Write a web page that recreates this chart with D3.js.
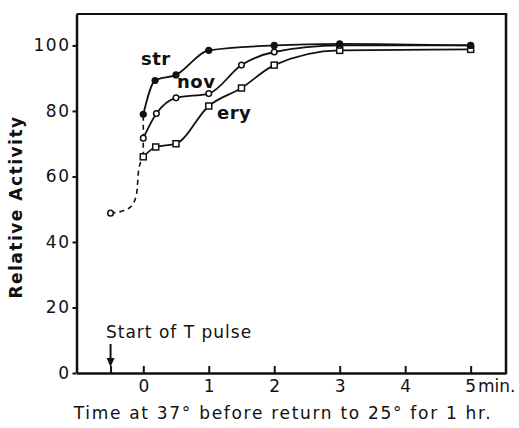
<!DOCTYPE html>
<html><head><meta charset="utf-8">
<script src="https://cdn.jsdelivr.net/npm/d3@7"></script>
<style>
html,body{margin:0;padding:0;background:#fff;}
text{font-family:"DejaVu Sans",sans-serif;fill:#111;}
</style></head>
<body><svg id="c" width="519" height="428"></svg>
<script>
// ---- data ----
const strTime = [0, 0.18, 0.5, 1, 2, 3, 5];
const strValue = [79, 89.3, 91, 98.5, 100, 100.5, 100];
const novTime = [0, 0.2, 0.5, 1, 1.5, 2, 3, 5];
const novValue = [71.7, 79.2, 84, 85.3, 94, 98, 100, 100];
const eryTime = [0, 0.19, 0.5, 1, 1.5, 2, 3, 5];
const eryValue = [66, 69, 70, 81.5, 87, 94, 98.5, 98.8];
const pulseTime = [-0.5, -0.3, -0.18, -0.1, -0.07, 0];
const pulseValue = [48.8, 49.6, 51, 55, 62, 66];
const riseTime = [0, 0];
const riseValue = [66, 79];
const xTicks = [-0.5, 0, 1, 2, 3, 4, 5];
const xTickLabels = ["", "0", "1", "2", "3", "4", "5"];
const yTicks = [0, 20, 40, 60, 80, 100];
const seriesNames = ["str", "nov", "ery"];

const svg = d3.select("#c");
const L = 76.5, T = 14, R = 506, B = 373;
const x = d3.scaleLinear().domain([-1.02, 5.54]).range([L, R]);
const y = d3.scaleLinear().domain([0, 109.6]).range([B, T]);

// frame
svg.append("line").attr("x1",L).attr("x2",R).attr("y1",T).attr("y2",T).attr("stroke","#111").attr("stroke-width",2);
svg.append("line").attr("x1",R).attr("x2",R).attr("y1",T-1).attr("y2",B+1).attr("stroke","#111").attr("stroke-width",2.5);

// y axis
const ya = svg.append("g").attr("transform",`translate(${L},0)`)
  .call(d3.axisLeft(y).tickValues(yTicks).tickSize(4).tickPadding(2).tickSizeOuter(0));
ya.select(".domain").attr("stroke","#111").attr("stroke-width",2.5);
ya.selectAll(".tick line").attr("stroke","#111").attr("stroke-width",2);
ya.selectAll(".tick text").attr("font-size",17).style("letter-spacing","1.5px").attr("fill","#111");

// x axis
const xa = svg.append("g").attr("transform",`translate(0,${B})`)
  .call(d3.axisBottom(x).tickValues(xTicks).tickSize(-7).tickPadding(7).tickSizeOuter(0)
    .tickFormat((d,i)=>xTickLabels[i]));
xa.select(".domain").attr("stroke","#111").attr("stroke-width",2.5);
xa.selectAll(".tick line").attr("stroke","#111").attr("stroke-width",2);
xa.selectAll(".tick text").attr("font-size",17).attr("fill","#111");
xa.selectAll(".tick").filter(d=>d===5).select("text")
  .attr("text-anchor","start").attr("dx",-6).text(null)
  .call(t=>{t.append("tspan").text("5");t.append("tspan").attr("dx",2).text("min.");});

// axis titles
svg.append("text").attr("transform","translate(22,207) rotate(-90)")
  .attr("text-anchor","middle").attr("font-size",17).style("letter-spacing","1.5px")
  .attr("font-weight","bold").text("Relative  Activity");
svg.append("text").attr("x",283).attr("y",419).attr("text-anchor","middle")
  .attr("font-size",17).style("letter-spacing","1.7px").text("Time  at  37° before  return  to  25° for 1 hr.");

// start of pulse annotation
svg.append("text").attr("x",106).attr("y",338).attr("font-size",17).style("letter-spacing","1px").text("Start of  T pulse");
svg.append("line").attr("x1",x(-0.5)).attr("x2",x(-0.5)).attr("y1",344).attr("y2",362).attr("stroke","#111").attr("stroke-width",2);
svg.append("path").attr("d",`M${x(-0.5)-4},358 L${x(-0.5)+4},358 L${x(-0.5)},367 Z`).attr("fill","#111");

// dashed pulse curve
const pts = (t,v)=>t.map((d,i)=>[d,v[i]]);
svg.append("path").datum(pts(pulseTime,pulseValue))
  .attr("d",d3.line().x(d=>x(d[0])).y(d=>y(d[1])).curve(d3.curveMonotoneX))
  .attr("fill","none").attr("stroke","#111").attr("stroke-width",1.6).attr("stroke-dasharray","5,4");
svg.append("path").datum(pts(riseTime,riseValue))
  .attr("d",d3.line().x(d=>x(d[0])).y(d=>y(d[1])))
  .attr("fill","none").attr("stroke","#111").attr("stroke-width",1.6).attr("stroke-dasharray","5,4");

const line = d3.line().x(d=>x(d[0])).y(d=>y(d[1])).curve(d3.curveMonotoneX);
const series = [pts(strTime,strValue), pts(novTime,novValue), pts(eryTime,eryValue)];
series.forEach(s=>{
  svg.append("path").datum(s).attr("d",line).attr("fill","none")
    .attr("stroke","#111").attr("stroke-width",1.8);
});

// markers
svg.append("g").selectAll("rect").data(series[2]).join("rect")
  .attr("x",d=>x(d[0])-3).attr("y",d=>y(d[1])-3).attr("width",6).attr("height",6)
  .attr("fill","#fff").attr("stroke","#111").attr("stroke-width",1.5);
svg.append("g").selectAll("circle").data(series[1].concat([[pulseTime[0],pulseValue[0]]])).join("circle")
  .attr("cx",d=>x(d[0])).attr("cy",d=>y(d[1])).attr("r",2.8)
  .attr("fill","#fff").attr("stroke","#111").attr("stroke-width",1.5);
svg.append("g").selectAll("circle").data(series[0]).join("circle")
  .attr("cx",d=>x(d[0])).attr("cy",d=>y(d[1])).attr("r",3.6).attr("fill","#111");

// series labels
const labelPos = [[141,65],[177,88],[217,119]];
seriesNames.forEach((n,i)=>{
  svg.append("text").attr("x",labelPos[i][0]).attr("y",labelPos[i][1]).attr("font-size",18)
    .attr("font-weight","bold").style("letter-spacing","0.5px").text(n);
});
</script></body></html>
